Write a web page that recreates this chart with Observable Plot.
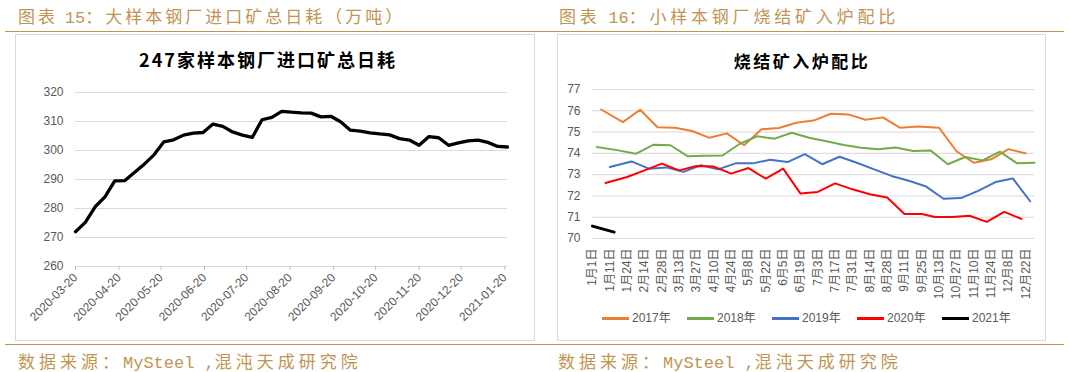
<!DOCTYPE html>
<html><head><meta charset="utf-8">
<script src="https://cdn.jsdelivr.net/npm/d3@7"></script>
<script src="https://cdn.jsdelivr.net/npm/@observablehq/plot@0.6"></script>
<style>
body{margin:0;background:#fff;}
#page{position:relative;width:1069px;height:372px;overflow:hidden;font-family:"Noto Sans CJK SC",sans-serif;background:#fff;}
.hdr{position:absolute;color:#bf9553;font-size:17px;letter-spacing:3.2px;white-space:nowrap;line-height:1;}
.mono{font-family:"Liberation Mono","DejaVu Sans Mono",monospace;letter-spacing:0;}
.hline{position:absolute;left:5px;width:1059px;height:1px;background:#bf9553;}
.box{position:absolute;border:1px solid #d9d9d9;box-sizing:border-box;}
.ttl{position:absolute;font-weight:bold;color:#000;white-space:nowrap;transform:translateX(-50%);line-height:1;}
.plot{position:absolute;}
.sw{position:absolute;height:3px;width:27px;}
.lt{position:absolute;font-family:"Liberation Sans","Noto Sans CJK SC",sans-serif;font-size:12px;color:#595959;line-height:1;white-space:nowrap;}
</style>
</head><body>
<div id="page">
  <div class="hdr" style="left:18px;top:7px;letter-spacing:3px;">图表 <span class="mono">15</span>：大样本钢厂进口矿总日耗（万吨）</div>
  <div class="hdr" style="left:559px;top:7px;letter-spacing:3.8px;">图表 <span class="mono">16</span>：小样本钢厂烧结矿入炉配比</div>
  <div class="hline" style="top:31px;"></div>
  <div class="box" style="left:15px;top:34px;width:520px;height:307px;"></div>
  <div class="box" style="left:557px;top:34px;width:489px;height:307px;"></div>
  <div class="ttl" style="left:268px;top:50px;font-size:18px;letter-spacing:2px;">247家样本钢厂进口矿总日耗</div>
  <div class="ttl" style="left:802px;top:52px;font-size:17px;letter-spacing:2.5px;">烧结矿入炉配比</div>
  <div id="left" class="plot" style="left:15px;top:70px;"></div>
  <div id="right" class="plot" style="left:557px;top:70px;"></div>
  <div id="legend"></div>
  <div class="hline" style="top:344px;"></div>
  <div class="hdr" style="left:18px;top:352px;letter-spacing:4px;">数据来源：<span class="mono">MySteel ,</span>混沌天成研究院</div>
  <div class="hdr" style="left:558px;top:352px;letter-spacing:4px;">数据来源：<span class="mono">MySteel ,</span>混沌天成研究院</div>
</div>
<script>
// ---------- Left chart data (weekly, starting 2020-03-20) ----------
const leftStartDate = "2020-03-20";
const leftEndDate = "2021-01-22";
const leftValues = [272.0, 275.2, 280.6, 284.0, 289.5, 289.6, 292.4, 295.3, 298.5, 303.0,
  303.7, 305.3, 306.0, 306.2, 309.1, 308.3, 306.4, 305.3, 304.5, 310.6,
  311.4, 313.5, 313.2, 313.0, 312.9, 311.6, 311.8, 309.9, 307.0, 306.7,
  306.1, 305.7, 305.4, 304.1, 303.6, 301.8, 304.8, 304.4, 301.8, 302.6,
  303.3, 303.6, 302.8, 301.4, 301.2];
const leftTickLabels = ["2020-03-20","2020-04-20","2020-05-20","2020-06-20","2020-07-20","2020-08-20",
  "2020-09-20","2020-10-20","2020-11-20","2020-12-20","2021-01-20"];
const leftYTicks = [260, 270, 280, 290, 300, 310, 320];

// ---------- Right chart data (x = week slot of the year) ----------
const weekLabels = ["1月1日","1月11日","1月24日","2月14日","2月28日","3月13日","3月27日","4月10日","4月24日",
  "5月8日","5月22日","6月5日","6月19日","7月3日","7月17日","7月31日","8月14日","8月28日","9月11日",
  "9月25日","10月13日","10月27日","11月10日","11月24日","12月8日","12月22日"];
const labelWeeks = [0,2,4,6,8,10,12,14,16,18,20,22,24,26,28,30,32,34,36,38,40,42,44,46,48,50];
const rightYTicks = [70, 71, 72, 73, 74, 75, 76, 77];

const seriesNames = ["2017年","2018年","2019年","2020年","2021年"];
const seriesColors = ["#ED7D31","#70AD47","#4472C4","#FF0000","#000000"];

const weeks2017 = [1,3.5,5.5,7.5,9.5,11.5,13.5,15.5,17.5,19.5,21.5,23.5,25.5,27.5,29.5,31.5,33.5,35.5,37.5,40,42,44,46,48,50];
const values2017 = [76.06,75.47,76.05,75.23,75.20,75.05,74.73,74.94,74.38,75.13,75.19,75.44,75.54,75.86,75.83,75.58,75.69,75.20,75.26,75.20,74.10,73.56,73.72,74.20,74.00];

const weeks2018 = [0.5,3,5,7,9,11,13,15,17,19,21,23,25,27,29,31,33,35,37,39,41,43,45,47,49,51];
const values2018 = [74.30,74.14,73.98,74.40,74.38,73.86,73.89,73.90,74.45,74.80,74.69,74.97,74.73,74.57,74.39,74.26,74.19,74.28,74.11,74.14,73.49,73.83,73.67,74.08,73.53,73.56];

const weeks2019 = [2,4.5,6.5,8.5,10.5,12.5,14.5,16.5,18.5,20.5,22.5,24.5,26.5,28.5,30.5,32.5,34.5,36.5,38.5,40.5,42.5,44.5,46.5,48.5,50.5];
const values2019 = [73.36,73.62,73.28,73.34,73.13,73.44,73.25,73.53,73.53,73.70,73.59,73.96,73.49,73.84,73.56,73.25,72.94,72.71,72.44,71.87,71.90,72.24,72.65,72.82,71.75];

const weeks2020 = [1.5,4,6,8,10,12,14,16,18,20,22,24,26,28,30,32,34,36,38,39.5,41.5,43.5,45.5,47.5,49.5];
const values2020 = [72.61,72.89,73.20,73.52,73.20,73.41,73.38,73.05,73.31,72.81,73.28,72.11,72.19,72.59,72.31,72.08,71.93,71.15,71.15,71.01,71.01,71.07,70.78,71.25,70.92];

const weeks2021 = [0, 2.5];
const values2021 = [70.58, 70.30];

// ---------- Build left chart ----------
const parse = d3.utcParse("%Y-%m-%d");
const t0 = parse(leftStartDate);
const leftData = leftValues.map((v, i) => ({date: d3.utcDay.offset(t0, 7 * i), value: v}));
const leftTicks = leftTickLabels.map(parse);
const fmt = d3.utcFormat("%Y-%m-%d");

const axisFont = '"Liberation Sans","Noto Sans CJK SC",sans-serif';

const leftPlot = Plot.plot({
  width: 519, height: 270,
  marginLeft: 60, marginRight: 27, marginTop: 22, marginBottom: 74,
  style: {fontFamily: axisFont, fontSize: "12px", color: "#595959", background: "transparent", overflow: "visible"},
  x: {type: "utc", domain: [t0, parse(leftEndDate)]},
  y: {domain: [260, 320]},
  marks: [
    Plot.gridY(leftYTicks, {stroke: "#d9d9d9", strokeOpacity: 1, strokeWidth: 1}),
    Plot.axisY({ticks: leftYTicks, tickFormat: d3.format("d"), tickSize: 0, tickPadding: 12, label: null, fill: "#595959"}),
    Plot.axisX({ticks: leftTicks, tickFormat: fmt, tickRotate: -45, tickSize: 4, tickPadding: 5, label: null, stroke: "#bfbfbf", fill: "#595959"}),
    Plot.line(leftData, {x: "date", y: "value", stroke: "#000", strokeWidth: 3.3, strokeLinejoin: "round"})
  ]
});
document.getElementById("left").appendChild(leftPlot);

// ---------- Build right chart ----------
const seriesWeeks = [weeks2017, weeks2018, weeks2019, weeks2020, weeks2021];
const seriesValues = [values2017, values2018, values2019, values2020, values2021];
const seriesWidths = [2, 2, 2, 2, 3];
const rightData = [];
seriesNames.forEach((name, s) => {
  seriesWeeks[s].forEach((w, i) => rightData.push({series: name, week: w, value: seriesValues[s][i]}));
});

const rightPlot = Plot.plot({
  width: 488, height: 230,
  marginLeft: 35, marginRight: 11, marginTop: 19, marginBottom: 62,
  style: {fontFamily: axisFont, fontSize: "12px", color: "#595959", background: "transparent", overflow: "visible"},
  x: {domain: [0, 51]},
  y: {domain: [70, 77]},
  marks: [
    Plot.gridY(rightYTicks, {stroke: "#d9d9d9", strokeOpacity: 1, strokeWidth: 1}),
    Plot.axisY({ticks: rightYTicks, tickFormat: d3.format("d"), tickSize: 0, tickPadding: 12, label: null, fill: "#595959"}),
    Plot.axisX({ticks: labelWeeks, tickFormat: d => weekLabels[labelWeeks.indexOf(d)], tickRotate: -90, tickSize: 0, tickPadding: 10, label: null, fill: "#595959"}),
    ...seriesNames.map((name, s) => Plot.line(rightData.filter(d => d.series === name), {
      x: "week", y: "value", stroke: seriesColors[s], strokeWidth: seriesWidths[s], strokeLinejoin: "round"
    }))
  ]
});
document.getElementById("right").appendChild(rightPlot);

// ---------- Legend ----------
const legend = document.getElementById("legend");
seriesNames.forEach((name, i) => {
  const x = 602 + 85 * i;
  const sw = document.createElement("div");
  sw.className = "sw";
  sw.style.left = x + "px"; sw.style.top = "317px"; sw.style.background = seriesColors[i];
  legend.appendChild(sw);
  const t = document.createElement("div");
  t.className = "lt";
  t.style.left = (x + 30) + "px"; t.style.top = "312px";
  t.textContent = name;
  legend.appendChild(t);
});
</script>
</body></html>
